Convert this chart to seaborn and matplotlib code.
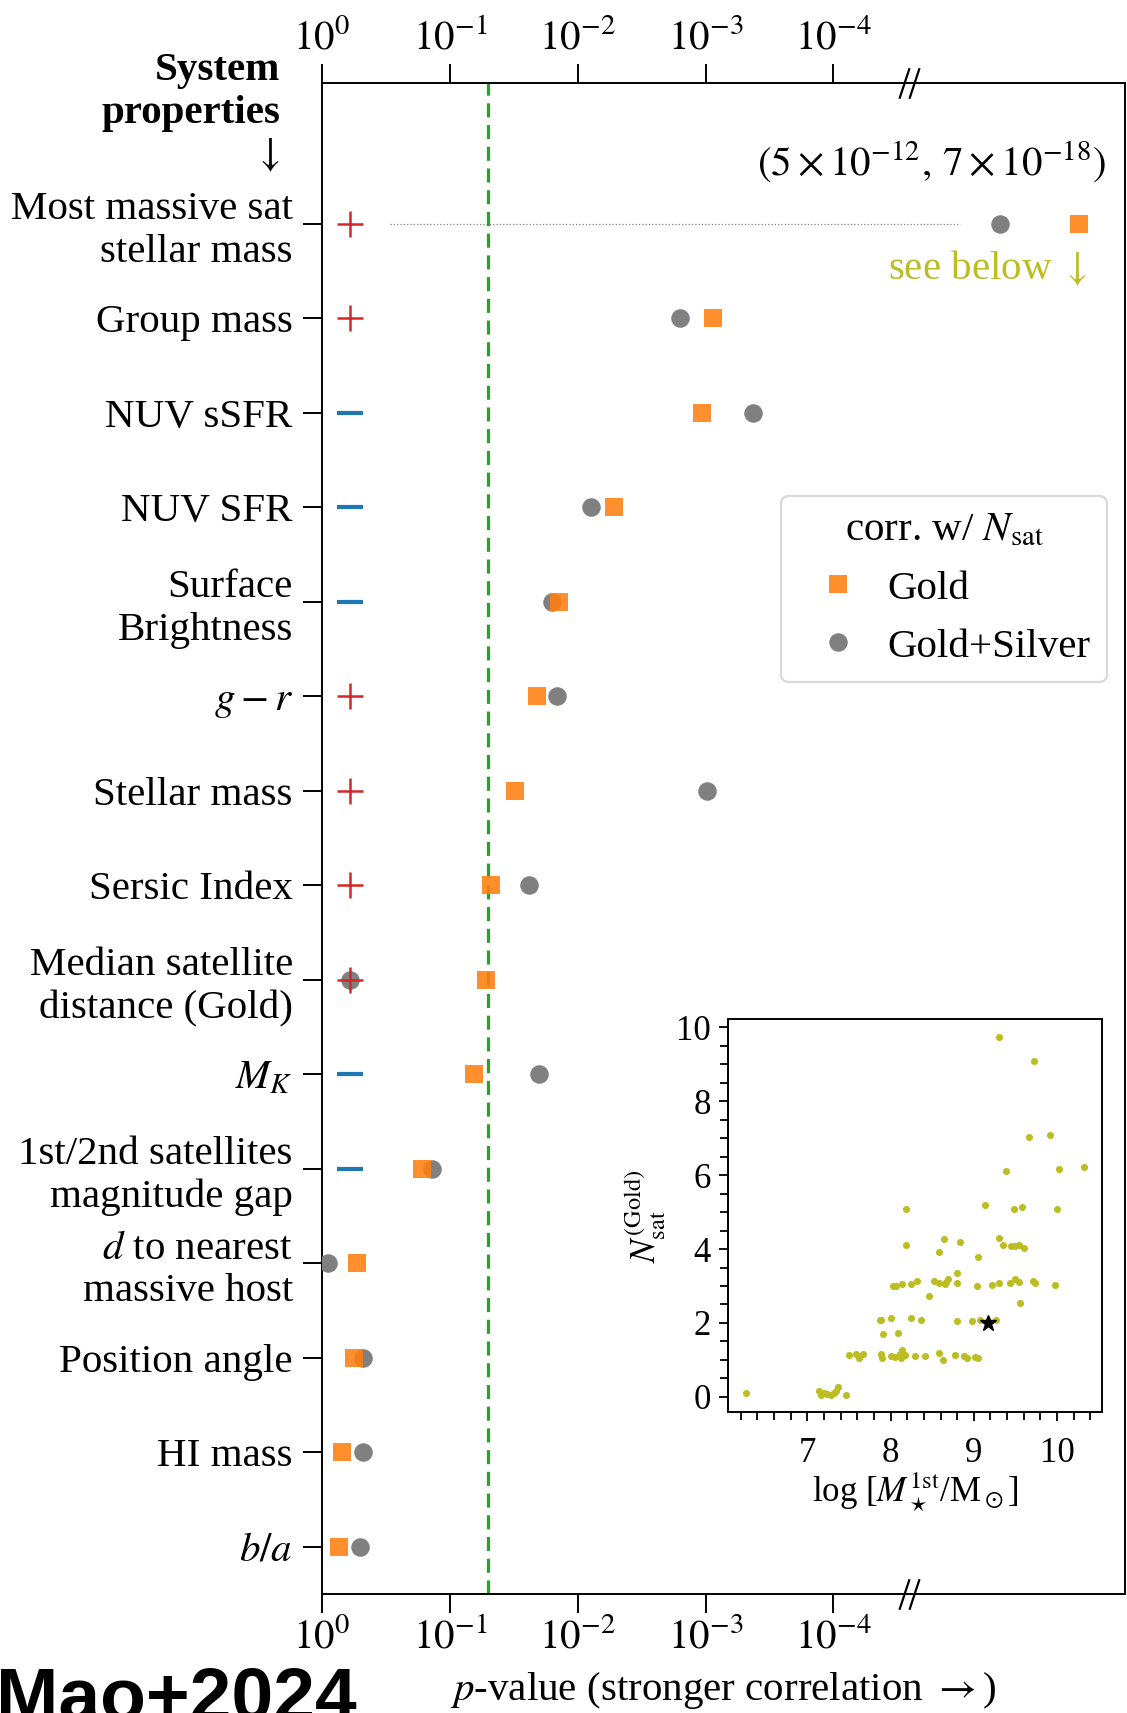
import numpy as np
import pandas as pd
import matplotlib
matplotlib.use("Agg")
import matplotlib.pyplot as plt
import matplotlib.transforms as mtransforms
from matplotlib.lines import Line2D
from matplotlib.ticker import FixedLocator, MultipleLocator
import seaborn as sns

# ---------------------------------------------------------------- data
properties = [
    "Most massive sat\nstellar mass", "Group mass", "NUV sSFR", "NUV SFR",
    "Surface\nBrightness", "$g-r$", "Stellar mass", "Sersic Index",
    "Median satellite\ndistance (Gold)", "$M_K$",
    "1st/2nd satellites\nmagnitude gap", "$d$ to nearest\nmassive host",
    "Position angle", "HI mass", "$b/a$",
]
# -log10(p) of the correlation with N_sat; the first row is drawn past the axis break
neglogp_gold = [5.92, 3.06, 2.97, 2.28, 1.85, 1.68, 1.51, 1.32, 1.28, 1.19,
                0.78, 0.27, 0.25, 0.16, 0.13]
neglogp_gold_silver = [5.30, 2.80, 3.37, 2.10, 1.80, 1.84, 3.01, 1.62, 0.22, 1.70,
                       0.86, 0.05, 0.32, 0.32, 0.30]
corr_sign = ["+", "+", "-", "-", "-", "+", "+", "+", "+", "-", "-", "", "", "", ""]

pvalue_ticks = [0, 1, 2, 3, 4]
pvalue_ticklabels = ["$10^{0}$", "$10^{-1}$", "$10^{-2}$", "$10^{-3}$", "$10^{-4}$"]
p_threshold = 0.05
axis_break = 4.59

# inset: most massive satellite stellar mass vs number of Gold satellites
inset_log_mstar = [
    6.26, 7.14, 7.16, 7.20, 7.24, 7.28, 7.32, 7.35, 7.37, 7.46,
    7.50, 7.59, 7.62, 7.67, 7.89, 7.90, 8.01, 8.05, 8.11, 8.14, 8.12, 8.17,
    8.29, 8.41, 8.58, 8.63, 8.77, 8.88, 8.92, 9.01, 9.05,
    7.87, 7.88, 8.01, 7.91, 8.09, 8.25, 8.37, 8.80, 8.98, 9.07, 9.27,
    8.03, 8.07, 8.14, 8.24, 8.32, 8.52, 8.58, 8.65, 8.67, 8.69, 8.80, 8.80,
    8.46, 9.04, 9.22, 9.30, 9.44, 9.49, 9.54, 9.71, 9.74, 9.97, 9.56,
    8.18, 8.58, 8.64, 8.83, 9.05, 9.30, 9.35, 9.45, 9.49, 9.54, 9.60,
    8.18, 9.14, 9.48, 9.58, 10.00,
    9.39, 10.02, 10.32,
    9.66, 9.92,
    9.72, 9.30,
]
inset_nsat = [
    0.11, 0.16, 0.06, 0.10, 0.07, 0.05, 0.11, 0.17, 0.27, 0.06,
    1.13, 1.17, 1.06, 1.15, 1.15, 1.06, 1.10, 1.08, 1.15, 1.28, 1.06, 1.13,
    1.10, 1.10, 1.19, 0.99, 1.13, 1.10, 1.06, 1.08, 1.04,
    2.09, 2.07, 2.12, 1.70, 1.74, 2.12, 2.08, 2.06, 2.05, 2.09, 2.08,
    3.01, 3.00, 3.05, 3.06, 3.13, 3.14, 3.09, 3.05, 3.11, 3.20, 3.34, 3.09,
    2.73, 3.01, 3.02, 3.07, 3.07, 3.20, 3.11, 3.14, 3.09, 3.04, 2.53,
    4.10, 3.92, 4.27, 4.20, 3.78, 4.31, 4.11, 4.09, 4.09, 4.12, 4.03,
    5.09, 5.19, 5.09, 5.14, 5.09,
    6.11, 6.18, 6.23,
    7.02, 7.08,
    9.10, 9.75,
]
host_log_mstar = 9.17
host_nsat = 2.0

# ---------------------------------------------------------------- style
sns.set_style("ticks")
plt.rcParams.update({
    "font.family": ["Liberation Serif", "DejaVu Serif"],
    "mathtext.fontset": "stix",
    "text.color": "black",
    "axes.labelcolor": "black",
    "axes.edgecolor": "black",
    "axes.linewidth": 1.4,
    "xtick.color": "black",
    "ytick.color": "black",
})

ORANGE = "#ff7f0e"
GRAY = "#808080"
OLIVE = "#bcbd22"
FS = 29.5
FS_IN = 25

W, H = 1127, 1713
fig = plt.figure(figsize=(W / 100, H / 100), dpi=100)

# ---------------------------------------------------------------- main panel
ax = fig.add_axes([322 / W, 1 - 1594 / H, (1125 - 322) / W, (1594 - 83) / H])

rows = np.arange(len(properties))
df_gs = pd.DataFrame({"neglogp": neglogp_gold_silver, "row": rows})
df_g = pd.DataFrame({"neglogp": neglogp_gold, "row": rows})

sns.scatterplot(data=df_gs, x="neglogp", y="row", marker="o", color=GRAY,
                s=178, linewidth=0, ax=ax, legend=False, zorder=3)
sns.scatterplot(data=df_g, x="neglogp", y="row", marker="s", color=ORANGE,
                alpha=0.88, s=178, linewidth=0, ax=ax, legend=False, zorder=4)

# sign of each correlation
sign_x = 0.217
for r, sgn in zip(rows, corr_sign):
    if sgn == "+":
        ax.plot([sign_x], [r], marker="+", ms=19, mew=1.8, color="#d62728",
                ls="none", zorder=5)
    elif sgn == "-":
        ax.plot([sign_x], [r], marker="_", ms=19, mew=3.0, color="#1f77b4",
                ls="none", zorder=5)

# significance threshold
ax.axvline(-np.log10(p_threshold), color="#2ca02c", lw=2.3,
           ls=(0, (4.4, 2.4)), zorder=2)

# leader line towards the off-scale points
ax.plot([0.53, 4.99], [0, 0], color="gray", lw=0.9, ls=":", zorder=1)

ax.set_xlim(0, 6.28)
ax.set_ylim(14.5, -1.49)
ax.set_yticks(rows)
ax.set_yticklabels(properties, fontsize=FS)
ax.set_xticks(pvalue_ticks)
ax.set_xticklabels(pvalue_ticklabels, fontsize=FS)
ax.tick_params(axis="y", length=13.5, width=1.4, pad=7.5)
ax.tick_params(axis="x", length=13.5, width=1.4, pad=4)
ax.set_ylabel("")
ax.set_xlabel(r"$p$-value (stronger correlation $\rightarrow$)", fontsize=FS,
              labelpad=10)

sec = ax.secondary_xaxis("top")
sec.set_xticks(pvalue_ticks)
sec.set_xticklabels(pvalue_ticklabels, fontsize=FS)
sec.tick_params(axis="x", length=13.5, width=1.4, pad=5)
sec.spines["top"].set_visible(False)

# axis break marks
brk = mtransforms.blended_transform_factory(ax.transData, ax.transAxes)
slash = [(-0.33, -1.0), (0.33, 1.0)]
for xb in (axis_break - 0.04, axis_break + 0.04):
    for yb in (0.0, 1.0):
        ax.plot([xb], [yb], marker=slash, ms=22, mew=1.6, color="black",
                transform=brk, clip_on=False, ls="none", zorder=6)

ax.text(6.13, -0.66, r"$(5\times10^{-12},\,7\times10^{-18})$", ha="right",
        va="center", fontsize=FS)
ax.text(5.99, 0.48, r"see below $\downarrow$", ha="right", va="center",
        fontsize=FS, color=OLIVE)

handles = [
    Line2D([], [], marker="s", color=ORANGE, alpha=0.88, ls="none", ms=13.3,
           mew=0),
    Line2D([], [], marker="o", color=GRAY, ls="none", ms=13.3, mew=0),
]
leg = ax.legend(handles, ["Gold", "Gold+Silver"],
                title=r"corr. w/ $N_{\rm sat}$", loc="upper right",
                bbox_to_anchor=(0.9776, 0.7267), borderaxespad=0,
                fontsize=FS, title_fontsize=FS, handletextpad=0.2,
                frameon=True, fancybox=True, framealpha=1)
leg.get_frame().set_edgecolor("0.85")
leg.get_frame().set_linewidth(1.6)

fig.text(280 / W, 1 - 52 / H, "System\nproperties\n" + r"$\downarrow$",
         ha="right", va="top", fontsize=FS, fontweight="bold",
         linespacing=1.2)

fig.text(-4 / W, 1 - 1720 / H, "Mao+2024", fontsize=54, fontweight="bold",
         family="Liberation Sans", ha="left", va="baseline")

# ---------------------------------------------------------------- inset
axin = fig.add_axes([728.3 / W, 1 - 1412.3 / H, (1102 - 728.3) / W,
                     (1412.3 - 1019.3) / H])
sns.scatterplot(x=inset_log_mstar, y=inset_nsat, color=OLIVE, s=26,
                linewidth=0, ax=axin, legend=False, zorder=3)
axin.plot([host_log_mstar], [host_nsat], marker="*", color="black", ms=12,
          ls="none", zorder=4)
axin.set_xlim(6.05, 10.54)
axin.set_ylim(-0.42, 10.22)
axin.xaxis.set_major_locator(FixedLocator([7, 8, 9, 10]))
axin.xaxis.set_minor_locator(MultipleLocator(0.2))
axin.yaxis.set_major_locator(MultipleLocator(2))
axin.yaxis.set_minor_locator(MultipleLocator(0.5))
axin.tick_params(which="both", labelsize=FS_IN, width=1.3)
axin.tick_params(which="major", length=6.5)
axin.tick_params(which="minor", length=6.0)
axin.tick_params(axis="x", which="major", pad=11)
axin.tick_params(axis="y", which="major", pad=6)
for sp in axin.spines.values():
    sp.set_linewidth(1.4)
axin.set_xlabel(r"log [$M_\star^{\rm 1st}$/M$_\odot$]", fontsize=FS_IN,
                labelpad=1)
axin.set_ylabel(r"$N_{\rm sat}^{\rm (Gold)}$", fontsize=FS_IN, labelpad=6)

fig.savefig("out.png", dpi=100)
